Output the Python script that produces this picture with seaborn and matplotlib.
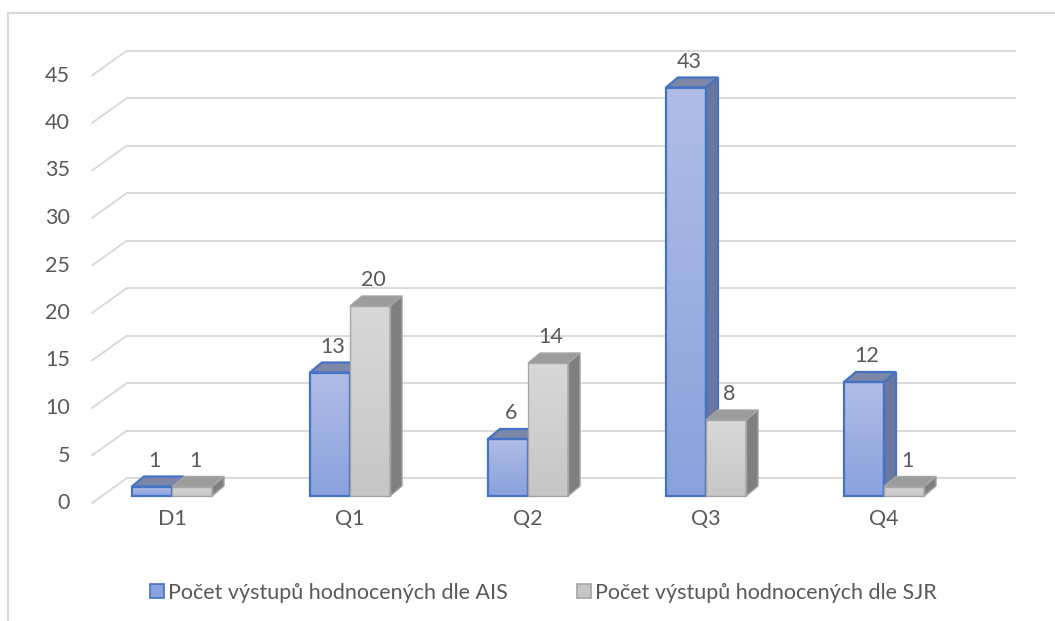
import numpy as np
import pandas as pd
import matplotlib.pyplot as plt
import seaborn as sns
from matplotlib.lines import Line2D
from matplotlib.patches import Polygon
from matplotlib.colors import LinearSegmentedColormap

# --- data ---
categories = ['D1', 'Q1', 'Q2', 'Q3', 'Q4']
ais_counts = [1, 13, 6, 43, 12]
sjr_counts = [1, 20, 14, 8, 1]
series_names = ['Počet výstupů hodnocených dle AIS', 'Počet výstupů hodnocených dle SJR']
y_ticks = [0, 5, 10, 15, 20, 25, 30, 35, 40, 45]

df = pd.DataFrame({
    'kategorie': categories * 2,
    'pocet': ais_counts + sjr_counts,
    'serie': [series_names[0]] * len(categories) + [series_names[1]] * len(categories),
})

# --- look ---
sns.set_theme(style='white')
plt.rcParams['font.family'] = ['Lato', 'DejaVu Sans']
TXT = '#595959'
GRID = '#d9d9d9'
FS = 15.5

# colours per series: gradient top, gradient bottom, edge, side face, top face
styles = [
    dict(top='#b0bde6', bottom='#8aa1dc', edge='#4472c4', side='#6a789f', cap='#7c87a8', lw=1.6),
    dict(top='#d8d8d8', bottom='#c6c6c6', edge='#a5a5a5', side='#7f7f7f', cap='#9c9c9c', lw=1.0),
]

# figure in pixels: category i sits at X0 + i*XS, value 0 at Y0, YS px per unit
W, H = 1055, 621
X0, XS = 172, 178
Y0, YS = 496, 9.5
dx = lambda px: px / XS
dy = lambda px: px / YS

fig = plt.figure(figsize=(W / 100, H / 100), dpi=100)
ax = fig.add_axes([0, 0, 1, 1])

sns.barplot(data=df, x='kategorie', y='pocet', hue='serie', order=categories,
            hue_order=series_names, width=0.45, errorbar=None, legend=False,
            ax=ax, zorder=3)

# back wall gridlines + left wall diagonals
back_l, back_r, front_l = dx(127 - X0), dx(1015 - X0), dx(92 - X0)
for v in y_ticks:
    ax.plot([back_l, back_r], [v + dy(18), v + dy(18)], color=GRID, lw=1.4, zorder=1)
    ax.plot([front_l, back_l], [v - dy(7), v + dy(18)], color=GRID, lw=1.4, zorder=1)
    ax.text(dx(70 - X0), v - dy(7), str(v), ha='right', va='center',
            fontsize=FS, color=TXT)

# 3D-ish bars: gradient front, dark side, top cap
ddx, ddy = dx(12), dy(10)
for k, (container, st) in enumerate(zip(ax.containers, styles)):
    z = 3 + k
    cmap = LinearSegmentedColormap.from_list('g%d' % k, [st['bottom'], st['top']])
    for bar in container:
        x0, w, h = bar.get_x(), bar.get_width(), bar.get_height()
        grad = np.linspace(0, 1, 100).reshape(-1, 1)
        im = ax.imshow(grad, extent=[x0, x0 + w, 0, h], origin='lower', cmap=cmap,
                       aspect='auto', zorder=z, interpolation='bilinear')
        im.set_clip_path(bar)
        bar.set_facecolor('none')
        bar.set_edgecolor(st['edge'])
        bar.set_linewidth(st['lw'])
        bar.set_zorder(z + 0.3)
        side = Polygon([(x0 + w, 0), (x0 + w + ddx, ddy), (x0 + w + ddx, h + ddy), (x0 + w, h)],
                       closed=True, facecolor=st['side'], edgecolor=st['edge'],
                       lw=st['lw'], zorder=z + 0.1)
        cap = Polygon([(x0, h), (x0 + ddx, h + ddy), (x0 + w + ddx, h + ddy), (x0 + w, h)],
                      closed=True, facecolor=st['cap'], edgecolor=st['edge'],
                      lw=st['lw'], zorder=z + 0.1)
        ax.add_patch(side)
        ax.add_patch(cap)
        ax.annotate('%d' % h, (x0 + w / 2 + ddx / 4, h + ddy), xytext=(0, 11.5),
                    textcoords='offset points', ha='center', va='center',
                    fontsize=FS, color=TXT, zorder=10)

for i, c in enumerate(categories):
    ax.text(i, dy(496 - 519), c, ha='center', va='center', fontsize=FS, color=TXT)

ax.set_xlim(-X0 / XS, (W - X0) / XS)
ax.set_ylim((Y0 - H) / YS, Y0 / YS)
ax.set_axis_off()

# chart frame (left and top edges visible in the crop)
fig.add_artist(Line2D([8 / W, 8 / W], [0, 1 - 13 / H], color=GRID, lw=1.5))
fig.add_artist(Line2D([8 / W, 1], [1 - 13 / H, 1 - 13 / H], color=GRID, lw=1.5))

handles = [Line2D([], [], marker='s', linestyle='none', markersize=9.5,
                  markerfacecolor=st['bottom'], markeredgecolor=st['edge'],
                  markeredgewidth=1.2) for st in styles]
fig.legend(handles, series_names, loc='center', bbox_to_anchor=(543 / W, 1 - 593 / H),
           ncol=2, frameon=False, fontsize=FS, labelcolor=TXT, handlelength=0.7,
           handletextpad=0.15, columnspacing=3.2)

fig.savefig('out.png', dpi=100)
